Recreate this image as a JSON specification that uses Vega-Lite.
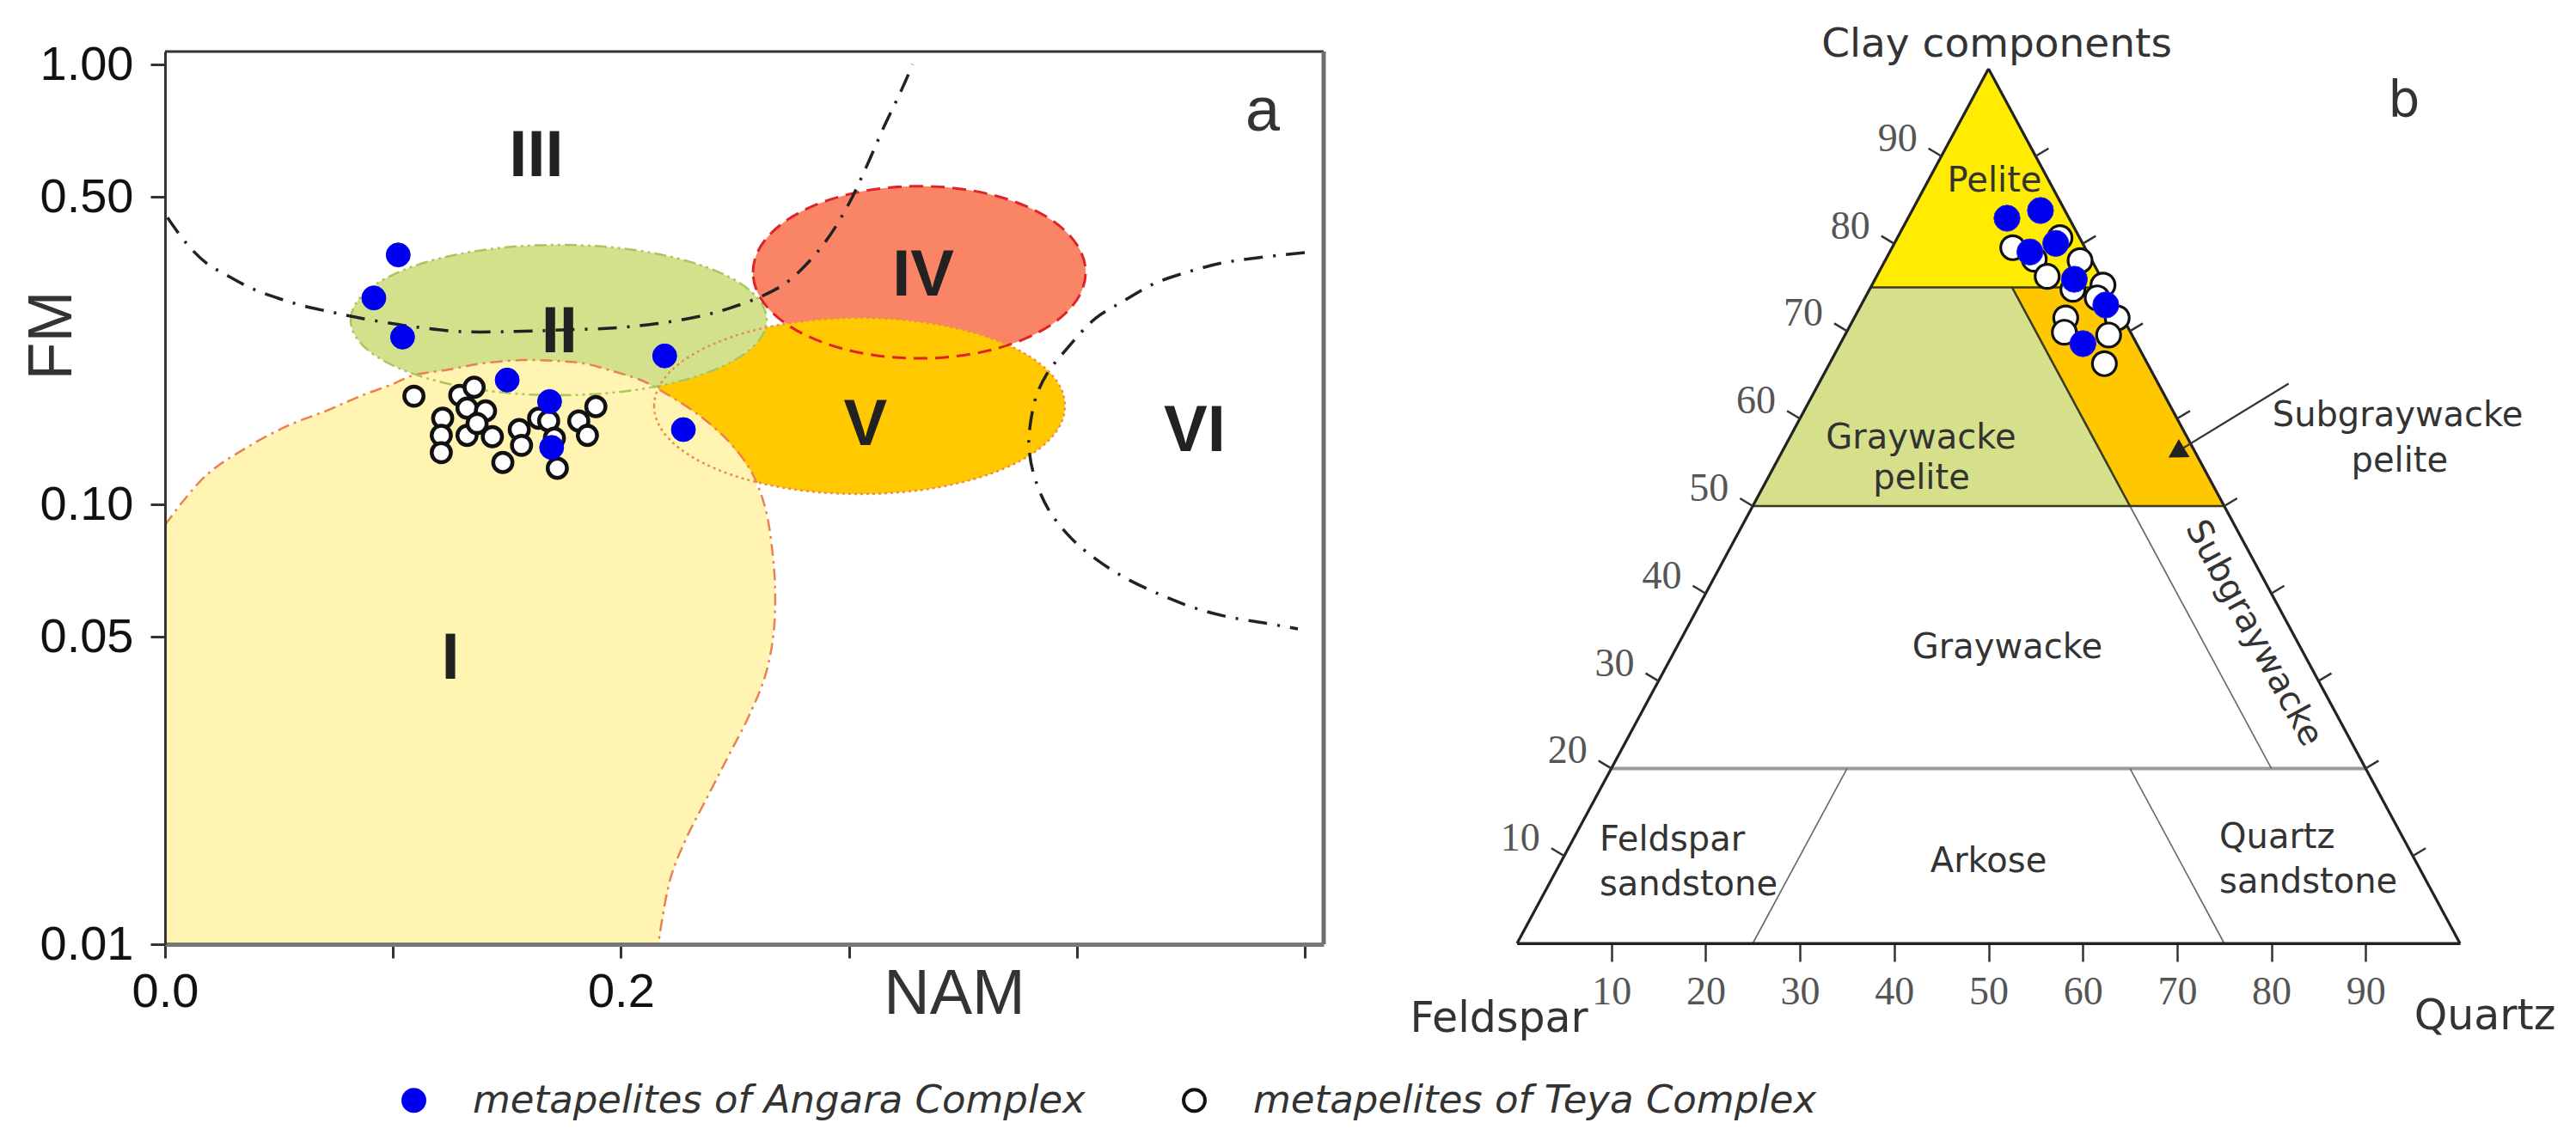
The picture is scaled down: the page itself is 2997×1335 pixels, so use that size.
{
  "$schema": "https://vega.github.io/schema/vega-lite/v6.json",
  "width": 2997,
  "height": 1335,
  "autosize": {"type": "none"},
  "padding": 0,
  "background": "white",
  "config": {"view": {"stroke": null}, "font": "Liberation Sans"},
  "datasets": {
    "ellIV": [{"NAM": 0.3309, "FM": 0.337}],
    "ellV": [{"NAM": 0.3047, "FM": 0.1674}],
    "ellII": [{"NAM": 0.1727, "FM": 0.2624}],
    "regionI": [
      {"NAM": 0, "FM": 0.0898, "i": 1}, {"NAM": 0.0177, "FM": 0.116, "i": 2}, {"NAM": 0.0358, "FM": 0.1346, "i": 3},
      {"NAM": 0.0539, "FM": 0.151, "i": 4}, {"NAM": 0.0709, "FM": 0.1633, "i": 5}, {"NAM": 0.0803, "FM": 0.1715, "i": 6},
      {"NAM": 0.0886, "FM": 0.1786, "i": 7}, {"NAM": 0.0999, "FM": 0.1877, "i": 8}, {"NAM": 0.1086, "FM": 0.1963, "i": 9},
      {"NAM": 0.1248, "FM": 0.2026, "i": 10}, {"NAM": 0.1388, "FM": 0.209, "i": 11}, {"NAM": 0.1565, "FM": 0.2128, "i": 12},
      {"NAM": 0.1716, "FM": 0.2119, "i": 13}, {"NAM": 0.184, "FM": 0.209, "i": 14}, {"NAM": 0.1965, "FM": 0.2008, "i": 15},
      {"NAM": 0.2093, "FM": 0.1911, "i": 16}, {"NAM": 0.2191, "FM": 0.1794, "i": 17}, {"NAM": 0.2342, "FM": 0.1596, "i": 18},
      {"NAM": 0.247, "FM": 0.1395, "i": 19}, {"NAM": 0.2568, "FM": 0.1197, "i": 20}, {"NAM": 0.2632, "FM": 0.0987, "i": 21},
      {"NAM": 0.2666, "FM": 0.077, "i": 22}, {"NAM": 0.2677, "FM": 0.0618, "i": 23}, {"NAM": 0.2668, "FM": 0.05, "i": 24},
      {"NAM": 0.2632, "FM": 0.0406, "i": 25}, {"NAM": 0.256, "FM": 0.0329, "i": 26}, {"NAM": 0.247, "FM": 0.0267, "i": 27},
      {"NAM": 0.2379, "FM": 0.0216, "i": 28}, {"NAM": 0.2289, "FM": 0.0175, "i": 29}, {"NAM": 0.2217, "FM": 0.0141, "i": 30},
      {"NAM": 0.2164, "FM": 0.01, "i": 31}, {"NAM": 0, "FM": 0.01, "i": 32}
    ],
    "curveIII": [
      {"NAM": 0.0011, "FM": 0.4485, "i": 1}, {"NAM": 0.0093, "FM": 0.3924, "i": 2}, {"NAM": 0.0181, "FM": 0.3538, "i": 3},
      {"NAM": 0.0282, "FM": 0.3294, "i": 4}, {"NAM": 0.0382, "FM": 0.3093, "i": 5}, {"NAM": 0.0495, "FM": 0.2943, "i": 6},
      {"NAM": 0.0608, "FM": 0.2826, "i": 7}, {"NAM": 0.0728, "FM": 0.2738, "i": 8}, {"NAM": 0.0834, "FM": 0.2665, "i": 9},
      {"NAM": 0.096, "FM": 0.2594, "i": 10}, {"NAM": 0.1086, "FM": 0.2536, "i": 11}, {"NAM": 0.13, "FM": 0.247, "i": 12},
      {"NAM": 0.1538, "FM": 0.2472, "i": 13}, {"NAM": 0.1739, "FM": 0.2491, "i": 14}, {"NAM": 0.1966, "FM": 0.2518, "i": 15},
      {"NAM": 0.2154, "FM": 0.2574, "i": 16}, {"NAM": 0.2343, "FM": 0.2674, "i": 17}, {"NAM": 0.2481, "FM": 0.2797, "i": 18},
      {"NAM": 0.2632, "FM": 0.2996, "i": 19}, {"NAM": 0.274, "FM": 0.3234, "i": 20}, {"NAM": 0.2885, "FM": 0.3878, "i": 21},
      {"NAM": 0.2992, "FM": 0.474, "i": 22}, {"NAM": 0.3065, "FM": 0.5673, "i": 23}, {"NAM": 0.3155, "FM": 0.7236, "i": 24},
      {"NAM": 0.3227, "FM": 0.866, "i": 25}, {"NAM": 0.328, "FM": 1.0, "i": 26}
    ],
    "curveVI": [
      {"NAM": 0.5, "FM": 0.3735, "i": 1}, {"NAM": 0.4793, "FM": 0.3635, "i": 2}, {"NAM": 0.4642, "FM": 0.3542, "i": 3},
      {"NAM": 0.4506, "FM": 0.3398, "i": 4}, {"NAM": 0.434, "FM": 0.3177, "i": 5}, {"NAM": 0.4208, "FM": 0.2904, "i": 6},
      {"NAM": 0.4084, "FM": 0.2653, "i": 7}, {"NAM": 0.3959, "FM": 0.2267, "i": 8}, {"NAM": 0.3869, "FM": 0.198, "i": 9},
      {"NAM": 0.382, "FM": 0.1747, "i": 10}, {"NAM": 0.3793, "FM": 0.1479, "i": 11}, {"NAM": 0.379, "FM": 0.1352, "i": 12},
      {"NAM": 0.3812, "FM": 0.1165, "i": 13}, {"NAM": 0.3876, "FM": 0.0973, "i": 14}, {"NAM": 0.3978, "FM": 0.0835, "i": 15},
      {"NAM": 0.4091, "FM": 0.0746, "i": 16}, {"NAM": 0.4216, "FM": 0.0679, "i": 17}, {"NAM": 0.4374, "FM": 0.0621, "i": 18},
      {"NAM": 0.451, "FM": 0.0583, "i": 19}, {"NAM": 0.4649, "FM": 0.0557, "i": 20}, {"NAM": 0.4827, "FM": 0.0537, "i": 21},
      {"NAM": 0.497, "FM": 0.0521, "i": 22}
    ],
    "frameTop": [{"NAM": 0, "NAM2": 0.5083, "FM": 1.07}],
    "frameRight": [{"NAM": 0.5083, "FM": 0.01, "FM2": 1.07}],
    "ptsA": [
      {"NAM": 0.1092, "FM": 0.1762, "complex": "metapelites of Teya Complex"},
      {"NAM": 0.1293, "FM": 0.177, "complex": "metapelites of Teya Complex"},
      {"NAM": 0.1356, "FM": 0.1846, "complex": "metapelites of Teya Complex"},
      {"NAM": 0.1325, "FM": 0.1655, "complex": "metapelites of Teya Complex"},
      {"NAM": 0.1406, "FM": 0.1631, "complex": "metapelites of Teya Complex"},
      {"NAM": 0.1218, "FM": 0.157, "complex": "metapelites of Teya Complex"},
      {"NAM": 0.1212, "FM": 0.1435, "complex": "metapelites of Teya Complex"},
      {"NAM": 0.1325, "FM": 0.1435, "complex": "metapelites of Teya Complex"},
      {"NAM": 0.1436, "FM": 0.1425, "complex": "metapelites of Teya Complex"},
      {"NAM": 0.1212, "FM": 0.1311, "complex": "metapelites of Teya Complex"},
      {"NAM": 0.1554, "FM": 0.1479, "complex": "metapelites of Teya Complex"},
      {"NAM": 0.1564, "FM": 0.1362, "complex": "metapelites of Teya Complex"},
      {"NAM": 0.1482, "FM": 0.1245, "complex": "metapelites of Teya Complex"},
      {"NAM": 0.1639, "FM": 0.157, "complex": "metapelites of Teya Complex"},
      {"NAM": 0.1683, "FM": 0.1547, "complex": "metapelites of Teya Complex"},
      {"NAM": 0.1721, "FM": 0.1208, "complex": "metapelites of Teya Complex"},
      {"NAM": 0.1815, "FM": 0.1547, "complex": "metapelites of Teya Complex"},
      {"NAM": 0.1853, "FM": 0.1435, "complex": "metapelites of Teya Complex"},
      {"NAM": 0.189, "FM": 0.1668, "complex": "metapelites of Teya Complex"},
      {"NAM": 0.1369, "FM": 0.1527, "complex": "metapelites of Teya Complex"},
      {"NAM": 0.1708, "FM": 0.1414, "complex": "metapelites of Teya Complex"},
      {"NAM": 0.1023, "FM": 0.369, "complex": "metapelites of Angara Complex"},
      {"NAM": 0.0916, "FM": 0.2946, "complex": "metapelites of Angara Complex"},
      {"NAM": 0.1042, "FM": 0.24, "complex": "metapelites of Angara Complex"},
      {"NAM": 0.2192, "FM": 0.2175, "complex": "metapelites of Angara Complex"},
      {"NAM": 0.1501, "FM": 0.1917, "complex": "metapelites of Angara Complex"},
      {"NAM": 0.1687, "FM": 0.1713, "complex": "metapelites of Angara Complex"},
      {"NAM": 0.1696, "FM": 0.1347, "complex": "metapelites of Angara Complex"},
      {"NAM": 0.2274, "FM": 0.1479, "complex": "metapelites of Angara Complex"}
    ],
    "labelsA": [
      {"NAM": 0.1629, "FM": 0.5573, "label": "III"},
      {"NAM": 0.173, "FM": 0.2216, "label": "II"},
      {"NAM": 0.3326, "FM": 0.2983, "label": "IV"},
      {"NAM": 0.3073, "FM": 0.1364, "label": "V"},
      {"NAM": 0.4517, "FM": 0.1322, "label": "VI"},
      {"NAM": 0.1252, "FM": 0.0401, "label": "I"}
    ],
    "letterA": [{"NAM": 0.4815, "FM": 0.707, "label": "a"}],
    "pelite": [{"x": 37.5, "c": 75, "i": 1}, {"x": 50, "c": 100, "i": 2}, {"x": 62.5, "c": 75, "i": 3}],
    "gwPelite": [{"x": 37.5, "c": 75, "i": 1}, {"x": 52.5, "c": 75, "i": 2}, {"x": 65, "c": 50, "i": 3}, {"x": 25, "c": 50, "i": 4}],
    "sgwPelite": [{"x": 52.5, "c": 75, "i": 1}, {"x": 62.5, "c": 75, "i": 2}, {"x": 75, "c": 50, "i": 3}, {"x": 65, "c": 50, "i": 4}],
    "edges": [{"x": 0, "c": 0, "x2": 50, "c2": 100}, {"x": 50, "c": 100, "x2": 100, "c2": 0}, {"x": 0, "c": 0, "x2": 100, "c2": 0}],
    "mainLines": [{"x": 37.5, "c": 75, "x2": 62.5, "c2": 75}, {"x": 25, "c": 50, "x2": 75, "c2": 50}, {"x": 52.5, "c": 75, "x2": 65, "c2": 50}],
    "minorLines": [{"x": 65, "c": 50, "x2": 80, "c2": 20}, {"x": 35, "c": 20, "x2": 25, "c2": 0}, {"x": 65, "c": 20, "x2": 75, "c2": 0}],
    "c20": [{"x": 10, "c": 20, "x2": 90, "c2": 20}],
    "ptsB": [
      {"x": 52.57, "c": 79.54, "complex": "metapelites of Teya Complex"},
      {"x": 57.58, "c": 80.68, "complex": "metapelites of Teya Complex"},
      {"x": 54.85, "c": 78.22, "complex": "metapelites of Teya Complex"},
      {"x": 59.71, "c": 78.06, "complex": "metapelites of Teya Complex"},
      {"x": 56.22, "c": 76.26, "complex": "metapelites of Teya Complex"},
      {"x": 58.95, "c": 74.78, "complex": "metapelites of Teya Complex"},
      {"x": 62.14, "c": 75.27, "complex": "metapelites of Teya Complex"},
      {"x": 61.53, "c": 73.8, "complex": "metapelites of Teya Complex"},
      {"x": 58.19, "c": 71.51, "complex": "metapelites of Teya Complex"},
      {"x": 58.04, "c": 69.87, "complex": "metapelites of Teya Complex"},
      {"x": 63.65, "c": 71.51, "complex": "metapelites of Teya Complex"},
      {"x": 62.74, "c": 69.55, "complex": "metapelites of Teya Complex"},
      {"x": 62.29, "c": 66.28, "complex": "metapelites of Teya Complex"},
      {"x": 51.96, "c": 82.91, "complex": "metapelites of Angara Complex"},
      {"x": 55.51, "c": 83.79, "complex": "metapelites of Angara Complex"},
      {"x": 54.39, "c": 79.05, "complex": "metapelites of Angara Complex"},
      {"x": 57.13, "c": 80.03, "complex": "metapelites of Angara Complex"},
      {"x": 59.1, "c": 75.93, "complex": "metapelites of Angara Complex"},
      {"x": 62.44, "c": 72.99, "complex": "metapelites of Angara Complex"},
      {"x": 60.01, "c": 68.57, "complex": "metapelites of Angara Complex"}
    ],
    "centerLabelsB": [
      {"x": 50.64, "c": 85.95, "label": "Pelite"},
      {"x": 42.84, "c": 56.58, "label": "Graywacke"},
      {"x": 42.89, "c": 51.96, "label": "pelite"},
      {"x": 93.4, "c": 59.1, "label": "Subgraywacke"},
      {"x": 93.6, "c": 53.9, "label": "pelite"},
      {"x": 52.0, "c": 32.6, "label": "Graywacke"},
      {"x": 50.0, "c": 8.15, "label": "Arkose"}
    ],
    "leftLabelsB": [
      {"x": 8.75, "c": 10.6, "label": "Feldspar"},
      {"x": 8.75, "c": 5.5, "label": "sandstone"},
      {"x": 74.48, "c": 10.9, "label": "Quartz"},
      {"x": 74.48, "c": 5.8, "label": "sandstone"}
    ],
    "ticksL": [
      {"x": 5, "c": 10, "label": "10"}, {"x": 10, "c": 20, "label": "20"}, {"x": 15, "c": 30, "label": "30"},
      {"x": 20, "c": 40, "label": "40"}, {"x": 25, "c": 50, "label": "50"}, {"x": 30, "c": 60, "label": "60"},
      {"x": 35, "c": 70, "label": "70"}, {"x": 40, "c": 80, "label": "80"}, {"x": 45, "c": 90, "label": "90"}
    ],
    "ticksR": [
      {"x": 95, "c": 10}, {"x": 90, "c": 20}, {"x": 85, "c": 30}, {"x": 80, "c": 40}, {"x": 75, "c": 50},
      {"x": 70, "c": 60}, {"x": 65, "c": 70}, {"x": 60, "c": 80}, {"x": 55, "c": 90}
    ],
    "titleB": [{"x": 50.87, "c": 101.37, "label": "Clay components"}],
    "cornersB": [{"x": -1.9, "c": -10.1, "label": "Feldspar"}, {"x": 102.65, "c": -9.82, "label": "Quartz"}],
    "letterB": [{"x": 94.07, "c": 94.5, "label": "b"}],
    "bandLabel": [{"x": 78.12, "c": 35.46, "label": "Subgraywacke"}],
    "arrowLine": [{"x": 81.83, "c": 64.0, "x2": 70.6, "c2": 56.6}],
    "arrowHead": [{"x": 69.92, "c": 56.09}]
  },
  "layer": [
    {
      "layer": [
        {
          "data": {"name": "ellIV"},
          "mark": {"type": "point", "shape": "M-1,0C-1,-0.2861,-0.5523,-0.518,0,-0.518C0.5523,-0.518,1,-0.2861,1,0C1,0.2861,0.5523,0.518,0,0.518C-0.5523,0.518,-1,0.2861,-1,0Z", "size": 149769, "filled": true, "fill": "#FA8466", "strokeWidth": 0, "opacity": 1},
          "encoding": {
            "x": {"field": "NAM", "type": "quantitative",
              "scale": {"domain": [0, 0.5083], "range": [192, 1540], "nice": false, "zero": false},
              "axis": {"orient": "bottom", "offset": -236, "values": [0, 0.1, 0.2, 0.3, 0.4, 0.5],
                "labelExpr": "datum.value === 0 ? '0.0' : (abs(datum.value - 0.2) < 0.001 ? '0.2' : '')",
                "title": "NAM", "titleX": 1110, "titleY": 80, "titleBaseline": "alphabetic", "titleAlign": "center",
                "titleFontSize": 74, "titleFontWeight": "normal", "titleColor": "#333333", "titleFont": "Liberation Sans",
                "labelFont": "Liberation Sans", "labelFontSize": 56, "labelColor": "#111111", "labelPadding": 12,
                "labelFlush": false, "labelOverlap": false,
                "tickSize": 16, "tickWidth": 3, "tickColor": "#333333",
                "domainColor": "#777777", "domainWidth": 5, "grid": false, "zindex": 1}},
            "y": {"field": "FM", "type": "quantitative",
              "scale": {"type": "log", "domain": [0.01, 1.07], "range": [1099, 60], "nice": false},
              "axis": {"orient": "left", "offset": -192, "values": [0.01, 0.05, 0.1, 0.5, 1], "format": ".2f",
                "title": "FM", "titleX": -110, "titleY": 390, "titleAngle": 270, "titleBaseline": "alphabetic", "titleAlign": "center",
                "titleFontSize": 72, "titleFontWeight": "normal", "titleColor": "#333333", "titleFont": "Liberation Sans",
                "labelFont": "Liberation Sans", "labelFontSize": 56, "labelColor": "#111111", "labelPadding": 20,
                "labelFlush": false, "labelOverlap": false,
                "tickSize": 17, "tickWidth": 3, "tickColor": "#333333",
                "domainColor": "#333333", "domainWidth": 3, "grid": false, "zindex": 1}}
          }
        },
        {
          "data": {"name": "ellV"},
          "mark": {"type": "point", "shape": "M-1,0C-1,-0.2369,-0.5523,-0.4289,0,-0.4289C0.5523,-0.4289,1,-0.2369,1,0C1,0.2369,0.5523,0.4289,0,0.4289C-0.5523,0.4289,-1,0.2369,-1,0Z", "size": 228484, "filled": true, "fill": "#FFC800", "strokeWidth": 0, "opacity": 1},
          "encoding": {"x": {"field": "NAM", "type": "quantitative"}, "y": {"field": "FM", "type": "quantitative"}}
        },
        {
          "data": {"name": "ellII"},
          "mark": {"type": "point", "shape": "M-1,0C-1,-0.1997,-0.5523,-0.3616,0,-0.3616C0.5523,-0.3616,1,-0.1997,1,0C1,0.1997,0.5523,0.3616,0,0.3616C-0.5523,0.3616,-1,0.1997,-1,0Z", "size": 234256, "filled": true, "fill": "#D3E08C", "strokeWidth": 0, "opacity": 1},
          "encoding": {"x": {"field": "NAM", "type": "quantitative"}, "y": {"field": "FM", "type": "quantitative"}}
        },
        {
          "data": {"name": "regionI"},
          "mark": {"type": "line", "fill": "#FFF4B2", "strokeOpacity": 0, "strokeWidth": 0, "interpolate": "linear"},
          "encoding": {"x": {"field": "NAM", "type": "quantitative"}, "y": {"field": "FM", "type": "quantitative"}, "order": {"field": "i", "type": "quantitative"}}
        },
        {
          "data": {"name": "regionI"},
          "transform": [{"filter": "datum.i <= 31"}],
          "mark": {"type": "line", "stroke": "#E98250", "strokeWidth": 2.5, "strokeDash": [14, 6, 3, 6], "interpolate": "catmull-rom"},
          "encoding": {"x": {"field": "NAM", "type": "quantitative"}, "y": {"field": "FM", "type": "quantitative"}, "order": {"field": "i", "type": "quantitative"}}
        },
        {
          "data": {"name": "ellII"},
          "mark": {"type": "point", "shape": "M-1,0C-1,-0.1997,-0.5523,-0.3616,0,-0.3616C0.5523,-0.3616,1,-0.1997,1,0C1,0.1997,0.5523,0.3616,0,0.3616C-0.5523,0.3616,-1,0.1997,-1,0Z", "size": 234256, "filled": false, "stroke": "#A8C65A", "strokeWidth": 2.5, "strokeDash": [14, 5, 3, 5, 3, 5], "opacity": 1},
          "encoding": {"x": {"field": "NAM", "type": "quantitative"}, "y": {"field": "FM", "type": "quantitative"}}
        },
        {
          "data": {"name": "ellV"},
          "mark": {"type": "point", "shape": "M-1,0C-1,-0.2369,-0.5523,-0.4289,0,-0.4289C0.5523,-0.4289,1,-0.2369,1,0C1,0.2369,0.5523,0.4289,0,0.4289C-0.5523,0.4289,-1,0.2369,-1,0Z", "size": 228484, "filled": false, "stroke": "#E89048", "strokeWidth": 2.5, "strokeDash": [3, 4], "opacity": 1},
          "encoding": {"x": {"field": "NAM", "type": "quantitative"}, "y": {"field": "FM", "type": "quantitative"}}
        },
        {
          "data": {"name": "ellIV"},
          "mark": {"type": "point", "shape": "M-1,0C-1,-0.2861,-0.5523,-0.518,0,-0.518C0.5523,-0.518,1,-0.2861,1,0C1,0.2861,0.5523,0.518,0,0.518C-0.5523,0.518,-1,0.2861,-1,0Z", "size": 149769, "filled": false, "stroke": "#E02328", "strokeWidth": 3, "strokeDash": [16, 9], "opacity": 1},
          "encoding": {"x": {"field": "NAM", "type": "quantitative"}, "y": {"field": "FM", "type": "quantitative"}}
        },
        {
          "data": {"name": "curveIII"},
          "mark": {"type": "line", "stroke": "#222222", "strokeWidth": 3.5, "strokeDash": [22, 12, 3, 12], "interpolate": "catmull-rom"},
          "encoding": {"x": {"field": "NAM", "type": "quantitative"}, "y": {"field": "FM", "type": "quantitative"}, "order": {"field": "i", "type": "quantitative"}}
        },
        {
          "data": {"name": "curveVI"},
          "mark": {"type": "line", "stroke": "#222222", "strokeWidth": 3.5, "strokeDash": [22, 12, 3, 12], "interpolate": "catmull-rom"},
          "encoding": {"x": {"field": "NAM", "type": "quantitative"}, "y": {"field": "FM", "type": "quantitative"}, "order": {"field": "i", "type": "quantitative"}}
        },
        {
          "data": {"name": "frameTop"},
          "mark": {"type": "rule", "stroke": "#333333", "strokeWidth": 3},
          "encoding": {"x": {"field": "NAM", "type": "quantitative"}, "x2": {"field": "NAM2"}, "y": {"field": "FM", "type": "quantitative"}}
        },
        {
          "data": {"name": "frameRight"},
          "mark": {"type": "rule", "stroke": "#6E6E6E", "strokeWidth": 5},
          "encoding": {"x": {"field": "NAM", "type": "quantitative"}, "y": {"field": "FM", "type": "quantitative"}, "y2": {"field": "FM2"}}
        },
        {
          "data": {"name": "ptsA"},
          "transform": [{"filter": "datum.complex == 'metapelites of Teya Complex'"}],
          "mark": {"type": "point", "shape": "circle", "filled": true, "size": 500, "strokeWidth": 4.5, "opacity": 1},
          "encoding": {
            "x": {"field": "NAM", "type": "quantitative"},
            "y": {"field": "FM", "type": "quantitative"},
            "fill": {"field": "complex", "type": "nominal",
              "scale": {"domain": ["metapelites of Angara Complex", "metapelites of Teya Complex"], "range": ["#0000F0", "#FFFFFF"]},
              "legend": {"orient": "none", "legendX": 459, "legendY": 1258, "direction": "horizontal", "title": null,
                "labelFont": "DejaVu Sans", "labelFontStyle": "italic", "labelFontSize": 45, "labelColor": "#333333", "labelLimit": 2000,
                "symbolSize": 620, "symbolStrokeWidth": 4, "symbolType": "circle", "labelOffset": 46, "columnPadding": 104, "padding": 0}},
            "stroke": {"field": "complex", "type": "nominal",
              "scale": {"domain": ["metapelites of Angara Complex", "metapelites of Teya Complex"], "range": ["#0000F0", "#111111"]},
              "legend": {"orient": "none", "legendX": 459, "legendY": 1258, "direction": "horizontal", "title": null,
                "labelFont": "DejaVu Sans", "labelFontStyle": "italic", "labelFontSize": 45, "labelColor": "#333333", "labelLimit": 2000,
                "symbolSize": 620, "symbolStrokeWidth": 4, "symbolType": "circle", "labelOffset": 46, "columnPadding": 104, "padding": 0}}
          }
        },
        {
          "data": {"name": "ptsA"},
          "transform": [{"filter": "datum.complex == 'metapelites of Angara Complex'"}],
          "mark": {"type": "point", "shape": "circle", "filled": true, "size": 780, "strokeWidth": 1, "opacity": 1},
          "encoding": {
            "x": {"field": "NAM", "type": "quantitative"},
            "y": {"field": "FM", "type": "quantitative"},
            "fill": {"field": "complex", "type": "nominal"},
            "stroke": {"field": "complex", "type": "nominal"}
          }
        },
        {
          "data": {"name": "labelsA"},
          "mark": {"type": "text", "font": "Liberation Sans", "fontWeight": "bold", "fontSize": 76, "color": "#222222", "align": "center", "baseline": "alphabetic"},
          "encoding": {"x": {"field": "NAM", "type": "quantitative"}, "y": {"field": "FM", "type": "quantitative"}, "text": {"field": "label"}}
        },
        {
          "data": {"name": "letterA"},
          "mark": {"type": "text", "font": "Liberation Sans", "fontSize": 72, "color": "#333333", "align": "center", "baseline": "alphabetic"},
          "encoding": {"x": {"field": "NAM", "type": "quantitative"}, "y": {"field": "FM", "type": "quantitative"}, "text": {"field": "label"}}
        }
      ]
    },
    {
      "layer": [
        {
          "data": {"name": "pelite"},
          "mark": {"type": "line", "fill": "#FFEC00", "strokeOpacity": 0, "strokeWidth": 0},
          "encoding": {
            "x": {"field": "x", "type": "quantitative",
              "scale": {"domain": [0, 100], "range": [1765, 2862], "nice": false, "zero": false},
              "axis": {"orient": "bottom", "offset": -237, "values": [10, 20, 30, 40, 50, 60, 70, 80, 90], "title": null,
                "labelFont": "Liberation Serif", "labelFontSize": 46, "labelColor": "#555555", "labelPadding": 13,
                "labelFlush": false, "labelOverlap": false,
                "tickSize": 21, "tickWidth": 2.5, "tickColor": "#333333",
                "domainColor": "#222222", "domainWidth": 3, "grid": false, "zindex": 1}},
            "y": {"field": "c", "type": "quantitative",
              "scale": {"domain": [0, 100], "range": [1098, 80], "nice": false, "zero": false}, "axis": null},
            "order": {"field": "i", "type": "quantitative"}
          }
        },
        {
          "data": {"name": "gwPelite"},
          "mark": {"type": "line", "fill": "#D6E08A", "strokeOpacity": 0, "strokeWidth": 0},
          "encoding": {"x": {"field": "x", "type": "quantitative"}, "y": {"field": "c", "type": "quantitative", "axis": null}, "order": {"field": "i", "type": "quantitative"}}
        },
        {
          "data": {"name": "sgwPelite"},
          "mark": {"type": "line", "fill": "#FFC700", "strokeOpacity": 0, "strokeWidth": 0},
          "encoding": {"x": {"field": "x", "type": "quantitative"}, "y": {"field": "c", "type": "quantitative", "axis": null}, "order": {"field": "i", "type": "quantitative"}}
        },
        {
          "data": {"name": "c20"},
          "mark": {"type": "rule", "stroke": "#9A9A9A", "strokeWidth": 4},
          "encoding": {"x": {"field": "x", "type": "quantitative"}, "y": {"field": "c", "type": "quantitative", "axis": null}, "x2": {"field": "x2"}, "y2": {"field": "c2"}}
        },
        {
          "data": {"name": "minorLines"},
          "mark": {"type": "rule", "stroke": "#666666", "strokeWidth": 1.6},
          "encoding": {"x": {"field": "x", "type": "quantitative"}, "y": {"field": "c", "type": "quantitative", "axis": null}, "x2": {"field": "x2"}, "y2": {"field": "c2"}}
        },
        {
          "data": {"name": "mainLines"},
          "mark": {"type": "rule", "stroke": "#3A3A20", "strokeWidth": 2.6},
          "encoding": {"x": {"field": "x", "type": "quantitative"}, "y": {"field": "c", "type": "quantitative", "axis": null}, "x2": {"field": "x2"}, "y2": {"field": "c2"}}
        },
        {
          "data": {"name": "edges"},
          "mark": {"type": "rule", "stroke": "#222222", "strokeWidth": 3.2},
          "encoding": {"x": {"field": "x", "type": "quantitative"}, "y": {"field": "c", "type": "quantitative", "axis": null}, "x2": {"field": "x2"}, "y2": {"field": "c2"}}
        },
        {
          "data": {"name": "ticksL"},
          "mark": {"type": "point", "shape": "M0,0L-1,-0.6", "size": 900, "filled": false, "stroke": "#333333", "strokeWidth": 2.5, "opacity": 1},
          "encoding": {"x": {"field": "x", "type": "quantitative"}, "y": {"field": "c", "type": "quantitative", "axis": null}}
        },
        {
          "data": {"name": "ticksR"},
          "mark": {"type": "point", "shape": "M0,0L1,-0.6", "size": 900, "filled": false, "stroke": "#333333", "strokeWidth": 2.5, "opacity": 1},
          "encoding": {"x": {"field": "x", "type": "quantitative"}, "y": {"field": "c", "type": "quantitative", "axis": null}}
        },
        {
          "data": {"name": "ticksL"},
          "mark": {"type": "text", "font": "Liberation Serif", "fontSize": 46, "color": "#555555", "align": "right", "baseline": "middle", "dx": -28, "dy": -20},
          "encoding": {"x": {"field": "x", "type": "quantitative"}, "y": {"field": "c", "type": "quantitative", "axis": null}, "text": {"field": "label"}}
        },
        {
          "data": {"name": "ptsB"},
          "transform": [{"filter": "datum.complex == 'metapelites of Teya Complex'"}],
          "mark": {"type": "point", "shape": "circle", "filled": true, "fill": "#FFFFFF", "stroke": "#111111", "size": 780, "strokeWidth": 3.2, "opacity": 1},
          "encoding": {"x": {"field": "x", "type": "quantitative"}, "y": {"field": "c", "type": "quantitative", "axis": null}}
        },
        {
          "data": {"name": "ptsB"},
          "transform": [{"filter": "datum.complex == 'metapelites of Angara Complex'"}],
          "mark": {"type": "point", "shape": "circle", "filled": true, "fill": "#0000F0", "stroke": "#2020F8", "size": 920, "strokeWidth": 1, "opacity": 1},
          "encoding": {"x": {"field": "x", "type": "quantitative"}, "y": {"field": "c", "type": "quantitative", "axis": null}}
        },
        {
          "data": {"name": "centerLabelsB"},
          "mark": {"type": "text", "font": "DejaVu Sans", "fontSize": 40, "color": "#333333", "align": "center", "baseline": "alphabetic"},
          "encoding": {"x": {"field": "x", "type": "quantitative"}, "y": {"field": "c", "type": "quantitative", "axis": null}, "text": {"field": "label"}}
        },
        {
          "data": {"name": "leftLabelsB"},
          "mark": {"type": "text", "font": "DejaVu Sans", "fontSize": 40, "color": "#333333", "align": "left", "baseline": "alphabetic"},
          "encoding": {"x": {"field": "x", "type": "quantitative"}, "y": {"field": "c", "type": "quantitative", "axis": null}, "text": {"field": "label"}}
        },
        {
          "data": {"name": "bandLabel"},
          "mark": {"type": "text", "font": "DejaVu Sans", "fontSize": 40, "color": "#333333", "align": "center", "baseline": "middle", "angle": 61.7},
          "encoding": {"x": {"field": "x", "type": "quantitative"}, "y": {"field": "c", "type": "quantitative", "axis": null}, "text": {"field": "label"}}
        },
        {
          "data": {"name": "titleB"},
          "mark": {"type": "text", "font": "DejaVu Sans", "fontSize": 47, "color": "#333333", "align": "center", "baseline": "alphabetic"},
          "encoding": {"x": {"field": "x", "type": "quantitative"}, "y": {"field": "c", "type": "quantitative", "axis": null}, "text": {"field": "label"}}
        },
        {
          "data": {"name": "cornersB"},
          "mark": {"type": "text", "font": "DejaVu Sans", "fontSize": 49, "color": "#333333", "align": "center", "baseline": "alphabetic"},
          "encoding": {"x": {"field": "x", "type": "quantitative"}, "y": {"field": "c", "type": "quantitative", "axis": null}, "text": {"field": "label"}}
        },
        {
          "data": {"name": "letterB"},
          "mark": {"type": "text", "font": "DejaVu Sans", "fontSize": 58, "color": "#333333", "align": "center", "baseline": "alphabetic"},
          "encoding": {"x": {"field": "x", "type": "quantitative"}, "y": {"field": "c", "type": "quantitative", "axis": null}, "text": {"field": "label"}}
        },
        {
          "data": {"name": "arrowLine"},
          "mark": {"type": "rule", "stroke": "#333333", "strokeWidth": 2.2},
          "encoding": {"x": {"field": "x", "type": "quantitative"}, "y": {"field": "c", "type": "quantitative", "axis": null}, "x2": {"field": "x2"}, "y2": {"field": "c2"}}
        },
        {
          "data": {"name": "arrowHead"},
          "mark": {"type": "point", "shape": "triangle-up", "size": 600, "filled": true, "fill": "#222222", "strokeWidth": 0, "angle": 239, "opacity": 1},
          "encoding": {"x": {"field": "x", "type": "quantitative"}, "y": {"field": "c", "type": "quantitative", "axis": null}}
        }
      ]
    }
  ],
  "resolve": {"scale": {"x": "independent", "y": "independent"}}
}
